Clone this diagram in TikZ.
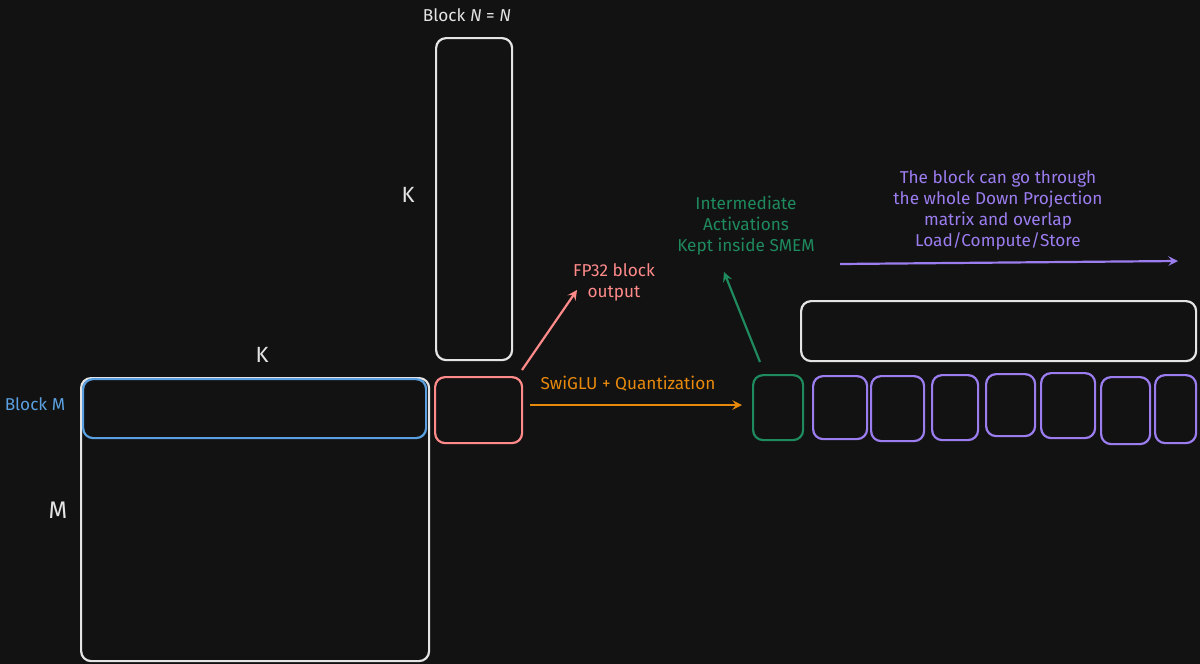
\documentclass[tikz,border=0pt]{standalone}
\usepackage{fontspec}
\setmainfont{Fira Sans}
\begin{document}
\definecolor{bg}{HTML}{121212}
\definecolor{wh}{HTML}{E4E4E4}
\definecolor{bl}{HTML}{5AA0E0}
\definecolor{rd}{HTML}{FF8A8A}
\definecolor{og}{HTML}{E8890C}
\definecolor{gn}{HTML}{1E8A5E}
\definecolor{pu}{HTML}{9B7DF0}
\begin{tikzpicture}[x=0.5pt,y=-0.5pt,
  box/.style={draw=#1,line width=1.1pt,rounded corners=5pt},
  lbl/.style={text=#1,font=\fontsize{8.6}{10.5}\selectfont,align=center},
  arr/.style={draw=#1,line width=1.1pt,->,>=stealth}]
\fill[bg] (0,0) rectangle (1200,664);
\useasboundingbox (0,0) rectangle (1200,664);
% matrices
\node[box=wh,minimum width=174pt,minimum height=141.5pt,anchor=north west] (A) at (80,377) {};
\node[box=bl,minimum width=171.5pt,minimum height=29.5pt,anchor=north west] (bm) at (82,378) {};
\node[box=wh,minimum width=38pt,minimum height=161pt,anchor=north west] (B) at (435,37) {};
\node[box=rd,minimum width=43.5pt,minimum height=33pt,anchor=north west] (C) at (434,376) {};
\node[box=gn,minimum width=25pt,minimum height=32.5pt,anchor=north west] (G) at (752,374) {};
\node[box=wh,minimum width=197.5pt,minimum height=30pt,anchor=north west] (W) at (800,300) {};
\foreach \n/\a/\b/\t/\c in {p1/812/866/375/438,p2/870/923/375/440,p3/931/977/374/439,p4/985/1034/373/435,p5/1040/1094/372/437,p6/1100/1149/376/443,p7/1154/1195/374/442}
  \node[box=pu,minimum width={(\b-\a)*0.5pt},minimum height={(\c-\t)*0.5pt},anchor=north west] (\n) at (\a,\t) {};
% labels
\node[lbl=wh] (tN) at (467,15) {Block \textit{N} = \textit{N}};
\node[lbl=wh,font=\fontsize{11}{12}\selectfont] (tK1) at (408,195) {K};
\node[lbl=wh,font=\fontsize{11}{12}\selectfont] (tK2) at (262,355) {K};
\node[lbl=wh,font=\fontsize{12}{12}\selectfont] (tM) at (58,510) {M};
\node[lbl=bl] (tbm) at (35,404) {Block M};
\node[lbl=rd] (tfp) at (614,282) {FP32 block\\output};
\node[lbl=og] (tsw) at (628,384) {SwiGLU + Quantization};
\node[lbl=gn] (tia) at (746,226) {Intermediate\\Activations\\Kept inside SMEM};
\node[lbl=pu] (tpu) at (998,210) {The block can go through\\the whole Down Projection\\matrix and overlap\\Load/Compute/Store};
% arrows
\coordinate (r1) at (522,370); \coordinate (r2) at (577,290);
\draw[arr=rd] (r1) -- (r2);
\coordinate (g1) at (760,362); \coordinate (g2) at (724,272);
\draw[arr=gn] (g1) -- (g2);
\coordinate (o1) at (530,405); \coordinate (o2) at (742,405);
\draw[arr=og] (o1) -- (o2);
\coordinate (u1) at (840,264); \coordinate (u2) at (1178,261);
\draw[arr=pu] (u1) -- (u2);
\end{tikzpicture}
\end{document}
